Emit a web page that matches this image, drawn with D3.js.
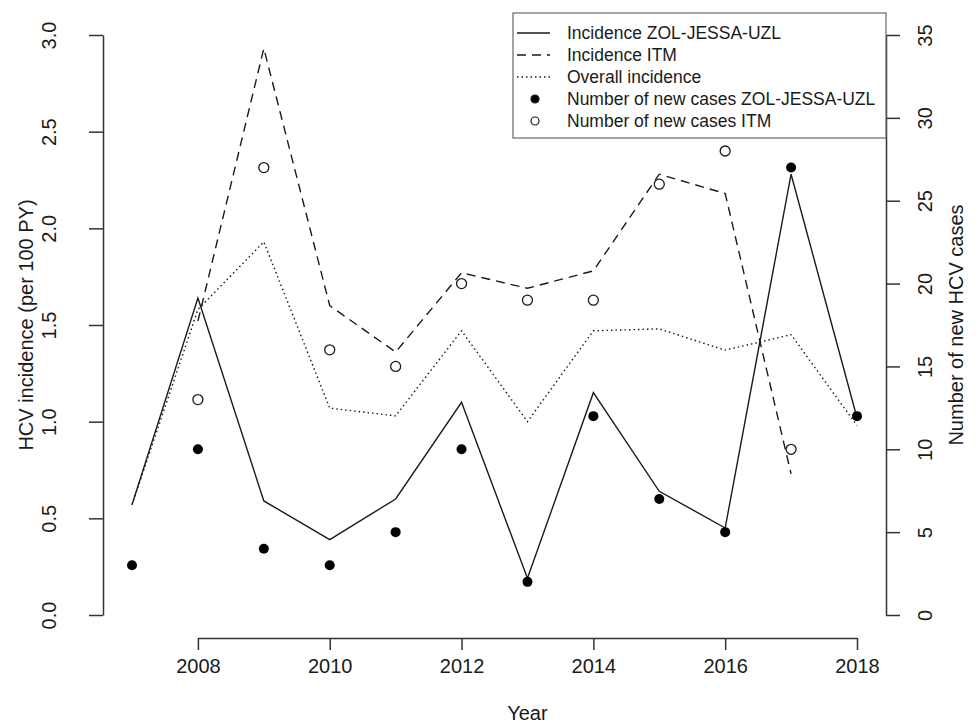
<!DOCTYPE html>
<html>
<head>
<meta charset="utf-8">
<script src="https://cdn.jsdelivr.net/npm/d3@7"></script>
<style>
  body { margin: 0; background: #fff; }
  svg { display: block; font-family: "Liberation Sans", Arial, sans-serif; }
</style>
</head>
<body>
<svg width="978" height="727"></svg>
<script>
// values
const years = [2007, 2008, 2009, 2010, 2011, 2012, 2013, 2014, 2015, 2016, 2017, 2018];
const incZol = [0.57, 1.64, 0.59, 0.39, 0.60, 1.10, 0.19, 1.15, 0.64, 0.45, 2.28, 1.02];
const incItm = [null, 1.52, 2.93, 1.60, 1.36, 1.77, 1.69, 1.78, 2.28, 2.18, 0.73, null];
const incAll = [0.57, 1.58, 1.93, 1.07, 1.03, 1.47, 1.00, 1.47, 1.48, 1.37, 1.45, 0.98];
const casesZol = [3, 10, 4, 3, 5, 10, 2, 12, 7, 5, 27, 12];
const casesItm = [null, 13, 27, 16, 15, 20, 19, 19, 26, 28, 10, null];

const xTicks = [2008, 2010, 2012, 2014, 2016, 2018];
const leftTicks = [0, 0.5, 1, 1.5, 2, 2.5, 3];
const rightTicks = [0, 5, 10, 15, 20, 25, 30, 35];
const legendLabels = [
  'Incidence ZOL-JESSA-UZL',
  'Incidence ITM',
  'Overall incidence',
  'Number of new cases ZOL-JESSA-UZL',
  'Number of new cases ITM'
];

const svg = d3.select('svg');
const ink = '#1a1a1a';

// plot region (R style: 4% padding around data range)
const plot = { left: 103, right: 886, top: 12, bottom: 638 };

const x = d3.scaleLinear().domain([2007 - 0.44, 2018 + 0.44]).range([plot.left, plot.right]);
const yL = d3.scaleLinear().domain([0, 3]).range([615, 35]);
const yR = d3.scaleLinear().domain([0, 35]).range([615, 35]);

// axes
const xAxis = svg.append('g')
  .attr('transform', `translate(0, ${plot.bottom})`)
  .call(d3.axisBottom(d3.scaleLinear().domain([2008, 2018]).range([x(2008), x(2018)]))
    .tickValues(xTicks).tickSize(12).tickSizeOuter(0).tickPadding(9).tickFormat(d3.format('d')));

const leftAxis = svg.append('g')
  .attr('transform', `translate(${plot.left}, 0)`)
  .call(d3.axisLeft(yL).tickValues(leftTicks).tickSize(14).tickSizeOuter(0).tickFormat(d3.format('.1f')));

const rightAxis = svg.append('g')
  .attr('transform', `translate(${plot.right}, 0)`)
  .call(d3.axisRight(yR).tickValues(rightTicks).tickSize(14).tickSizeOuter(0));

[xAxis, leftAxis, rightAxis].forEach(a => {
  a.selectAll('path, line').attr('stroke', '#333').attr('stroke-width', 1.5);
  a.selectAll('text').attr('fill', ink).attr('font-size', 20).attr('font-family', null);
});

xAxis.selectAll('text').attr('dy', '0.71em');

// y tick labels run parallel to the axis, like R's default
leftAxis.selectAll('text')
  .attr('x', null).attr('dy', null)
  .attr('text-anchor', 'middle')
  .attr('transform', 'translate(-47, 0) rotate(-90)');

rightAxis.selectAll('text')
  .attr('x', null).attr('dy', null)
  .attr('text-anchor', 'middle')
  .attr('transform', 'translate(46, 0) rotate(-90)');

// axis titles
svg.append('text')
  .attr('transform', `translate(33, ${(yL(0) + yL(3)) / 2}) rotate(-90)`)
  .attr('text-anchor', 'middle').attr('font-size', 20).attr('fill', ink)
  .text('HCV incidence (per 100 PY)');

svg.append('text')
  .attr('transform', `translate(963, ${(yR(0) + yR(35)) / 2}) rotate(-90)`)
  .attr('text-anchor', 'middle').attr('font-size', 20).attr('fill', ink)
  .text('Number of new HCV cases');

svg.append('text')
  .attr('x', (x(2008) + x(2018)) / 2).attr('y', 720)
  .attr('text-anchor', 'middle').attr('font-size', 20).attr('fill', ink)
  .text('Year');

// lines
const line = d3.line()
  .defined(d => d[1] != null)
  .x(d => x(d[0]))
  .y(d => yL(d[1]));

const series = [
  { values: incZol, dash: null },
  { values: incItm, dash: '9,6' },
  { values: incAll, dash: '1.5,3' }
];

svg.append('g').selectAll('path').data(series)
  .enter().append('path')
  .attr('d', s => line(years.map((yr, i) => [yr, s.values[i]])))
  .attr('fill', 'none')
  .attr('stroke', ink)
  .attr('stroke-width', 1.4)
  .attr('stroke-dasharray', s => s.dash);

// case counts on the right axis
const zolPts = years.map((yr, i) => ({ yr, n: casesZol[i] }));
const itmPts = years.map((yr, i) => ({ yr, n: casesItm[i] })).filter(d => d.n != null);

svg.append('g').selectAll('circle').data(zolPts)
  .enter().append('circle')
  .attr('cx', d => x(d.yr)).attr('cy', d => yR(d.n)).attr('r', 5)
  .attr('fill', '#000');

svg.append('g').selectAll('circle').data(itmPts)
  .enter().append('circle')
  .attr('cx', d => x(d.yr)).attr('cy', d => yR(d.n)).attr('r', 5)
  .attr('fill', '#fff').attr('stroke', ink).attr('stroke-width', 1.3);

// legend
const lg = svg.append('g');
lg.append('rect')
  .attr('x', 513).attr('y', 13).attr('width', plot.right - 513).attr('height', 125)
  .attr('fill', '#fff').attr('stroke', '#666').attr('stroke-width', 1.2);

const rowY = i => 33 + i * 22;

legendLabels.forEach((label, i) => {
  lg.append('text')
    .attr('x', 567).attr('y', rowY(i)).attr('dy', '0.35em')
    .attr('font-size', 17.5).attr('fill', ink)
    .text(label);
  if (i < 3) {
    lg.append('line')
      .attr('x1', 517).attr('x2', 550).attr('y1', rowY(i)).attr('y2', rowY(i))
      .attr('stroke', ink).attr('stroke-width', 1.4)
      .attr('stroke-dasharray', series[i].dash);
  } else {
    lg.append('circle')
      .attr('cx', 535).attr('cy', rowY(i)).attr('r', 4)
      .attr('fill', i === 3 ? '#000' : '#fff')
      .attr('stroke', ink).attr('stroke-width', 1.2);
  }
});
</script>
</body>
</html>
